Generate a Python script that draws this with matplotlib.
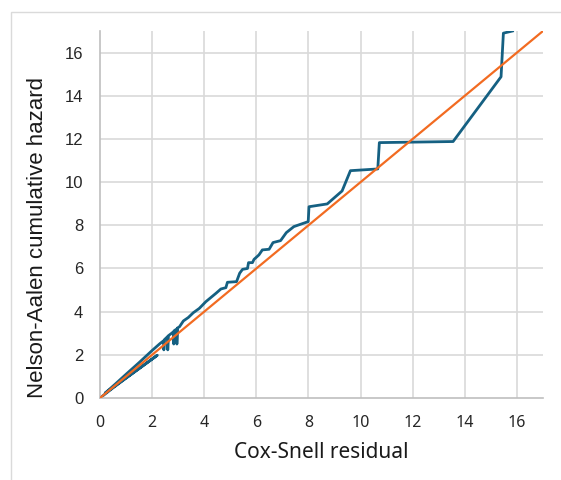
import matplotlib
matplotlib.use("Agg")
import matplotlib.pyplot as plt
from matplotlib.patches import Rectangle

# Cox-Snell residual (x) vs Nelson-Aalen cumulative hazard (y)
cox_snell = [0, 0.5, 1.0, 1.5, 2.2, 0.2, 0.6, 1.0, 1.5, 2.0, 2.3, 2.45, 2.45, 2.47,
             2.6, 2.6, 2.62, 2.75, 2.83, 2.83, 2.85, 2.95, 2.95, 2.97, 3.05, 3.2,
             3.39, 3.58, 3.81, 4.06, 4.26, 4.45, 4.64, 4.83, 4.89, 5.24, 5.36, 5.47,
             5.66, 5.70, 5.85, 5.91, 6.10, 6.23, 6.49, 6.64, 6.93, 7.15, 7.44, 7.99,
             8.02, 8.72, 9.29, 9.61, 10.66, 10.72, 13.55, 15.39, 15.48, 15.83]
na_hazard = [0, 0.47, 0.92, 1.36, 1.98, 0.23, 0.66, 1.1, 1.64, 2.2, 2.52, 2.66, 2.23,
             2.7, 2.85, 2.23, 2.88, 3.0, 3.08, 2.5, 3.12, 3.2, 2.5, 3.24, 3.3, 3.57,
             3.73, 3.95, 4.15, 4.46, 4.66, 4.85, 5.05, 5.11, 5.36, 5.39, 5.78, 5.96,
             6.0, 6.27, 6.27, 6.42, 6.63, 6.86, 6.89, 7.2, 7.29, 7.66, 7.94, 8.17,
             8.86, 8.99, 9.59, 10.53, 10.61, 11.83, 11.88, 14.88, 16.9, 17.0]
ref_line = [0, 17]

blue = "#156082"
orange = "#F26B21"
grid_col = "#D9D9D9"

fig = plt.figure(figsize=(5.61, 4.80), dpi=100)
fig.patches.append(Rectangle((11 / 561, -0.2), 2, 1 - 12 / 480 + 0.2,
                             transform=fig.transFigure, fill=False,
                             edgecolor="#DADADA", linewidth=1.0))

ax = fig.add_axes([100 / 561, 82 / 480, 443 / 561, 367 / 480])

ax.plot(ref_line, ref_line, color=orange, linewidth=1.6, zorder=3)
ax.plot(cox_snell, na_hazard, color=blue, linewidth=2.0, zorder=2)

ax.set_xlim(0, 17)
ax.set_ylim(0, 17)
ax.set_xticks(range(0, 17, 2))
ax.set_yticks(range(0, 17, 2))

# gridlines stop at 16 for x, run full width for y
for gx in range(2, 17, 2):
    ax.plot([gx, gx], [0, 17], color=grid_col, linewidth=1.2, zorder=1)
for gy in range(2, 17, 2):
    ax.plot([0, 17], [gy, gy], color=grid_col, linewidth=1.2, zorder=1)

for side in ["top", "right"]:
    ax.spines[side].set_visible(False)
for side in ["left", "bottom"]:
    ax.spines[side].set_color("#BFBFBF")
    ax.spines[side].set_linewidth(1.2)

ax.tick_params(length=0)
ax.tick_params(axis="x", pad=12)
ax.tick_params(axis="y", pad=12)
for lab in ax.get_xticklabels():
    lab.set_fontfamily("Noto Sans")
    lab.set_fontsize(11.5)
    lab.set_color("#262626")
for lab in ax.get_yticklabels():
    lab.set_fontfamily("Liberation Sans")
    lab.set_fontsize(12)
    lab.set_color("#262626")

ax.set_xlabel("Cox-Snell residual", fontfamily="Noto Sans", fontsize=15,
              color="#1A1A1A", labelpad=8)
fig.text(38 / 561, 1 - 237 / 480, "Nelson-Aalen cumulative hazard",
         rotation=90, ha="center", va="center", fontfamily="Liberation Sans",
         fontsize=16, color="#1A1A1A")

fig.savefig("out.png", dpi=100)
